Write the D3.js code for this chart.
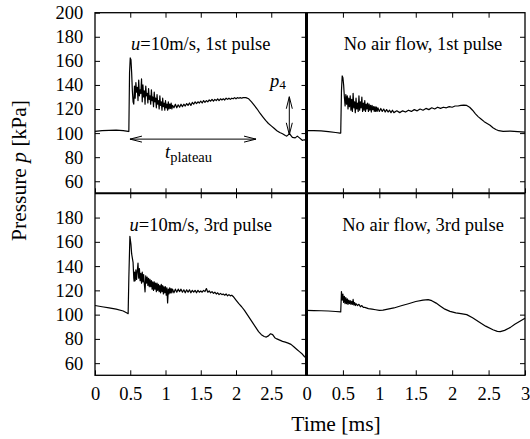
<!DOCTYPE html>
<html>
<head>
<meta charset="utf-8">
<script src="https://cdn.jsdelivr.net/npm/d3@7"></script>
<style>
body { margin: 0; background: #fff; }
text { font-family: "Liberation Serif", "Times New Roman", serif; fill: #000; }
.tick line { stroke: #000; stroke-width: 1; }
.trace { fill: none; stroke: #000; stroke-width: 1.2; stroke-linejoin: round; }
</style>
</head>
<body>
<script>
// pressure traces, [time ms, pressure kPa]
var flow1st = [[0,101.5],[0.1,102],[0.2,102.3],[0.3,102.5],[0.4,102],[0.47,101.5],[0.48,101.3],
  [0.49,150],[0.5,162.5],[0.51,161],[0.52,150],[0.53,135],[0.54,126],[0.55,124],
  [0.56,139],[0.57,129],[0.58,142],[0.59,134],[0.6,138],[0.61,127],[0.62,144],[0.63,131],[0.64,136],[0.65,133],
  [0.66,145],[0.67,126],[0.68,140],[0.69,130],[0.7,135],[0.71,124],[0.72,139],[0.73,131],[0.74,133],[0.75,125],
  [0.76,137],[0.77,128],[0.78,131],[0.79,124],[0.8,136],[0.81,127],[0.82,130],[0.83,122],[0.84,134],[0.85,126],
  [0.86,129],[0.87,121],[0.88,132],[0.89,124],[0.9,127],[0.91,120],[0.92,131],[0.93,123],[0.94,126],[0.95,119],
  [0.96,129],[0.97,122],[0.98,125],[0.99,119],[1.0,127],[1.01,121],[1.02,124],[1.03,119],[1.04,126],[1.05,120],
  [1.06,124],[1.07,120.5],[1.08,125],[1.09,120],[1.1,123],[1.12,121],[1.14,124],[1.16,121],[1.18,123.5],[1.2,121.5],
  [1.22,124],[1.24,122],[1.26,124],[1.28,122.5],[1.3,124.5],[1.32,123],[1.34,125],[1.36,123],[1.38,125.5],[1.4,124],
  [1.42,126],[1.44,124.5],[1.46,126],[1.48,125],[1.5,126.5],[1.52,125],[1.54,127],[1.56,125.5],[1.58,127],[1.6,126],
  [1.62,127.5],[1.64,126.5],[1.66,128],[1.68,126.5],[1.7,128],[1.72,127],[1.74,128.5],[1.76,127],[1.78,128.5],[1.8,127.5],
  [1.82,128.5],[1.84,127.5],[1.86,129],[1.88,128],[1.9,129],[1.92,128],[1.94,129],[1.96,128.5],[1.98,129.5],[2.0,128.5],
  [2.02,129.5],[2.04,129],[2.06,129.5],[2.08,129],[2.1,129.5],[2.14,129.5],[2.18,128.5],[2.22,126],[2.26,123],[2.3,120],
  [2.34,116.5],[2.38,113.5],[2.42,110.5],[2.46,108],[2.5,106],[2.54,104],[2.58,102],[2.62,100.5],[2.66,99.5],[2.7,98],
  [2.72,97.5],[2.74,98.5],[2.76,99.5],[2.78,98],[2.8,96.5],[2.84,96],[2.87,97.5],[2.9,96],[2.94,94],[2.97,94.5],[3.0,93.5]];

var still1st = [[0,102],[0.1,102],[0.2,101.8],[0.3,101.3],[0.4,100.5],[0.46,100],[0.47,100],
  [0.48,135],[0.49,147.5],[0.5,146],[0.51,140],[0.52,130],[0.53,122.5],
  [0.54,132],[0.55,124],[0.56,131],[0.57,120],[0.58,129],[0.59,122],[0.6,131],[0.61,119],[0.62,128],[0.63,118],
  [0.64,133],[0.65,121],[0.66,126],[0.67,117],[0.68,129],[0.69,120],[0.7,125],[0.71,118],[0.72,131],[0.73,119],
  [0.74,126],[0.75,121],[0.76,130],[0.77,118],[0.78,125],[0.79,119],[0.8,127],[0.81,118],[0.82,124],[0.83,120],
  [0.84,125],[0.85,118],[0.86,124],[0.87,119],[0.88,123],[0.89,117.5],[0.9,123],[0.91,119.5],[0.92,122],[0.93,118],
  [0.94,122],[0.95,118],[0.96,121.5],[0.97,118],[0.98,121],[1.0,118],[1.02,120.5],[1.04,118],[1.06,120],[1.08,117.5],
  [1.1,119.5],[1.12,117.5],[1.14,119],[1.16,117],[1.18,119],[1.2,117],[1.24,118.5],[1.28,117],[1.32,118.5],[1.36,117.5],
  [1.4,119],[1.44,118],[1.48,119.5],[1.52,118.5],[1.56,120],[1.6,119],[1.64,120.5],[1.68,119.5],[1.72,121],[1.76,120],
  [1.8,121.5],[1.84,120.5],[1.88,121.5],[1.92,121],[1.96,122],[2.0,121.5],[2.04,122.5],[2.08,122.5],[2.12,123],[2.16,123.3],
  [2.2,123],[2.24,121.5],[2.28,119],[2.32,116],[2.36,113.5],[2.4,111.5],[2.44,109.5],[2.48,108],[2.52,106.5],[2.56,104.5],
  [2.6,103],[2.64,102],[2.7,101.5],[2.8,101.7],[2.9,101.3],[3.0,100.8]];

var flow3rd = [[0,107.5],[0.1,106.5],[0.2,105.5],[0.3,104.5],[0.4,103],[0.46,101.2],[0.47,100.8],
  [0.48,130],[0.495,164.5],[0.51,158],[0.52,150],[0.54,143],[0.55,130],[0.555,127.5],
  [0.56,135],[0.57,128],[0.58,137],[0.59,129],[0.6,136],[0.61,142.5],[0.62,130],[0.63,138],[0.64,128],[0.65,134],
  [0.66,126],[0.67,135],[0.68,127],[0.69,133],[0.7,125],[0.71,118.8],[0.72,132],[0.73,126],[0.74,131],[0.75,124],
  [0.76,130],[0.77,123],[0.78,129],[0.79,123],[0.8,128],[0.81,121],[0.82,127],[0.83,120],[0.84,127],[0.85,121],
  [0.86,126],[0.87,119],[0.88,126],[0.89,120],[0.9,125],[0.91,119],[0.92,124],[0.93,118],[0.94,125],[0.95,119],
  [0.96,124],[0.97,117],[0.98,123],[0.99,118],[1.0,123],[1.01,116],[1.02,122],[1.03,109.6],[1.04,121],[1.05,117],
  [1.06,122],[1.07,118],[1.08,121.5],[1.09,118],[1.1,121],[1.12,118],[1.14,121],[1.16,118.5],[1.18,121],[1.2,119],
  [1.22,121],[1.24,118.5],[1.26,120.5],[1.28,118],[1.3,120.5],[1.32,118.5],[1.34,120.5],[1.36,118],[1.38,120],[1.4,118.5],
  [1.42,120],[1.44,118],[1.46,120],[1.48,118.5],[1.5,119.5],[1.52,118.5],[1.54,120],[1.56,119],[1.58,121.5],[1.6,118.5],
  [1.62,119.5],[1.64,118],[1.66,119],[1.68,117.5],[1.7,118.5],[1.72,117],[1.74,118],[1.76,116.5],[1.78,117.5],[1.8,116.5],
  [1.82,117],[1.84,116],[1.86,117],[1.88,115.5],[1.9,116.5],[1.92,115.5],[1.94,116],[1.96,115],[2.0,112],[2.04,109],
  [2.08,106.5],[2.12,103.5],[2.16,100],[2.2,96.5],[2.24,93],[2.28,89.5],[2.32,86],[2.36,83.5],[2.4,82],[2.43,81.5],
  [2.46,82.5],[2.49,84.2],[2.52,83.5],[2.55,81],[2.58,80],[2.62,79],[2.66,78],[2.7,77.3],[2.74,76.5],[2.78,75.5],
  [2.82,73.5],[2.86,71.5],[2.9,69.5],[2.94,67.5],[2.97,65.5],[3.0,64]];

var still3rd = [[0,103.5],[0.1,103.3],[0.2,103.2],[0.3,103],[0.4,102.6],[0.47,102.2],
  [0.48,119],[0.49,112],[0.5,117],[0.51,110],[0.52,115],[0.53,109],[0.54,114],[0.55,109],[0.56,113],[0.57,108.5],
  [0.58,112],[0.59,109],[0.6,111.5],[0.61,108.5],[0.62,111],[0.63,108.5],[0.64,112.5],[0.65,108],[0.66,110],[0.67,107.5],
  [0.68,109],[0.7,107.5],[0.72,108.5],[0.74,106.5],[0.76,107.5],[0.78,106],[0.8,106],[0.85,105],[0.9,104.5],[0.95,104],
  [1.0,103.5],[1.05,103.7],[1.1,104.3],[1.2,105.5],[1.3,107.3],[1.4,109],[1.5,110.8],[1.6,112],[1.67,112.4],[1.72,111.5],
  [1.78,109.5],[1.83,107.4],[1.9,104.5],[1.97,102.7],[2.05,101.5],[2.12,100.8],[2.2,100],[2.28,97.5],[2.38,93.6],[2.46,90.5],
  [2.56,87.5],[2.62,86.2],[2.66,86],[2.72,87],[2.8,89.5],[2.86,92],[2.93,94.5],[3.0,97]];

var xTicks = [0, 0.5, 1, 1.5, 2, 2.5, 3];
var yTicksTop = [60, 80, 100, 120, 140, 160, 180, 200];
var yTicksBottom = [60, 80, 100, 120, 140, 160, 180];

// annotations in data units (top left panel)
var plateauArrow = [[0.496, 95], [2.284, 95]];
var p4Arrow = [[2.756, 130.2], [2.756, 98.6]];

var serif = '"Liberation Serif", "Times New Roman", serif';
var width = 530, height = 439;
var leftX = 95, midX = 306.5, rightX = 525;
var topY = 12.7, midY = 193.3, bottomY = 375.3;

var svg = d3.select('body').append('svg')
  .attr('width', width)
  .attr('height', height);

// open arrow head, tip at the path end
var defs = svg.append('defs');
defs.append('marker')
  .attr('id', 'head')
  .attr('markerUnits', 'userSpaceOnUse')
  .attr('viewBox', '-14 -5 15 10')
  .attr('refX', 0).attr('refY', 0)
  .attr('markerWidth', 15).attr('markerHeight', 10)
  .attr('orient', 'auto-start-reverse')
  .append('path')
  .attr('d', 'M-12,-3 L0,0 L-12,3')
  .attr('fill', 'none')
  .attr('stroke', '#000')
  .attr('stroke-width', 1);

// scales
var xLeft = d3.scaleLinear().domain([0, 3]).range([leftX, midX]);
var xRight = d3.scaleLinear().domain([0, 3]).range([midX, rightX]);
var yTop = d3.scaleLinear().domain([50, 200]).range([midY, topY]);
var yBottom = d3.scaleLinear().domain([50, 200]).range([bottomY, midY]);

var panels = [
  {x: xLeft, y: yTop, data: flow1st, label: '=10m/s, 1st pulse', italic: 'u', lx: 1.5, first: true, row: 0},
  {x: xRight, y: yTop, data: still1st, label: 'No air flow, 1st pulse', italic: '', lx: 1.6, first: false, row: 0},
  {x: xLeft, y: yBottom, data: flow3rd, label: '=10m/s, 3rd pulse', italic: 'u', lx: 1.5, first: true, row: 1},
  {x: xRight, y: yBottom, data: still3rd, label: 'No air flow, 3rd pulse', italic: '', lx: 1.6, first: false, row: 1}
];

panels.forEach(function(p){
  var x0 = p.x.range()[0], x1 = p.x.range()[1];
  var y0 = p.y.range()[1], y1 = p.y.range()[0];
  var g = svg.append('g');

  // ticks pointing inwards; the left panel leaves out its "3" (the right panel's "0" sits there)
  var xLabels = p.row === 1 ? (p.first ? xTicks.slice(0, -1) : xTicks) : [];
  g.append('g')
    .attr('transform', 'translate(0,' + y1 + ')')
    .call(d3.axisBottom(p.x).tickValues(xTicks).tickSize(-5).tickPadding(11.5)
      .tickFormat(function(d){ return xLabels.indexOf(d) >= 0 ? d3.format('')(d) : '' }));
  g.append('g')
    .attr('transform', 'translate(0,' + y0 + ')')
    .call(d3.axisTop(p.x).tickValues(xTicks.slice(1, -1)).tickSize(-5).tickFormat(''));
  if (p.first) {
    g.append('g')
      .attr('transform', 'translate(' + x0 + ',0)')
      .call(d3.axisLeft(p.y).tickValues(p.row === 0 ? yTicksTop : yTicksBottom)
        .tickSize(-5).tickPadding(11.7));
  }
  g.append('g')
    .attr('transform', 'translate(' + x1 + ',0)')
    .call(d3.axisRight(p.y).tickValues(yTicksBottom).tickSize(-5).tickFormat(''));

  g.selectAll('.domain').remove();
  g.selectAll('g').attr('font-family', null).attr('font-size', null);
  g.selectAll('.tick text')
    .style('font-family', serif)
    .style('font-size', '18.5px')
    .attr('fill', '#000');

  var line = d3.line()
    .x(function(d){ return p.x(d[0]) })
    .y(function(d){ return p.y(d[1]) });
  g.append('path')
    .datum(p.data)
    .attr('class', 'trace')
    .attr('d', line);

  var t = g.append('text')
    .attr('x', p.x(p.lx))
    .attr('y', y0 + 37.3)
    .attr('text-anchor', 'middle')
    .style('font-size', '18.5px');
  if (p.italic) t.append('tspan').style('font-style', 'italic').text(p.italic);
  t.append('tspan').text(p.label);
});

// frame and dividers
svg.append('rect')
  .attr('x', leftX).attr('y', topY)
  .attr('width', rightX - leftX).attr('height', bottomY - topY)
  .attr('fill', 'none').attr('stroke', '#000').attr('stroke-width', 1.3);
svg.append('line')
  .attr('x1', leftX).attr('x2', rightX).attr('y1', midY).attr('y2', midY)
  .attr('stroke', '#000').attr('stroke-width', 2);
svg.append('line')
  .attr('x1', midX).attr('x2', midX).attr('y1', topY).attr('y2', bottomY)
  .attr('stroke', '#000').attr('stroke-width', 3);

// annotation arrows
var arrowLine = d3.line()
  .x(function(d){ return xLeft(d[0]) })
  .y(function(d){ return yTop(d[1]) });
[plateauArrow, p4Arrow].forEach(function(a){
  svg.append('path')
    .attr('d', arrowLine(a))
    .attr('stroke', '#000').attr('stroke-width', 1)
    .attr('marker-start', 'url(#head)')
    .attr('marker-end', 'url(#head)');
});

var tp = svg.append('text')
  .attr('x', xLeft(0.993)).attr('y', yTop(79.1))
  .style('font-size', '18.5px');
tp.append('tspan').style('font-style', 'italic').text('t');
tp.append('tspan').attr('dy', 3.4).style('font-size', '14.5px').text('plateau');

var p4 = svg.append('text')
  .attr('x', xLeft(2.482)).attr('y', yTop(138))
  .style('font-size', '18.5px');
p4.append('tspan').style('font-style', 'italic').text('p');
p4.append('tspan').attr('dy', 1.5).style('font-size', '13.3px').text('4');

// axis titles
var yt = svg.append('text')
  .attr('transform', 'translate(26,170.5) rotate(-90)')
  .attr('text-anchor', 'middle')
  .style('font-size', '21.5px');
yt.append('tspan').text('Pressure ');
yt.append('tspan').style('font-style', 'italic').text('p');
yt.append('tspan').text(' [kPa]');

svg.append('text')
  .attr('x', 336).attr('y', 431)
  .attr('text-anchor', 'middle')
  .style('font-size', '21.5px')
  .text('Time [ms]');
</script>
</body>
</html>
